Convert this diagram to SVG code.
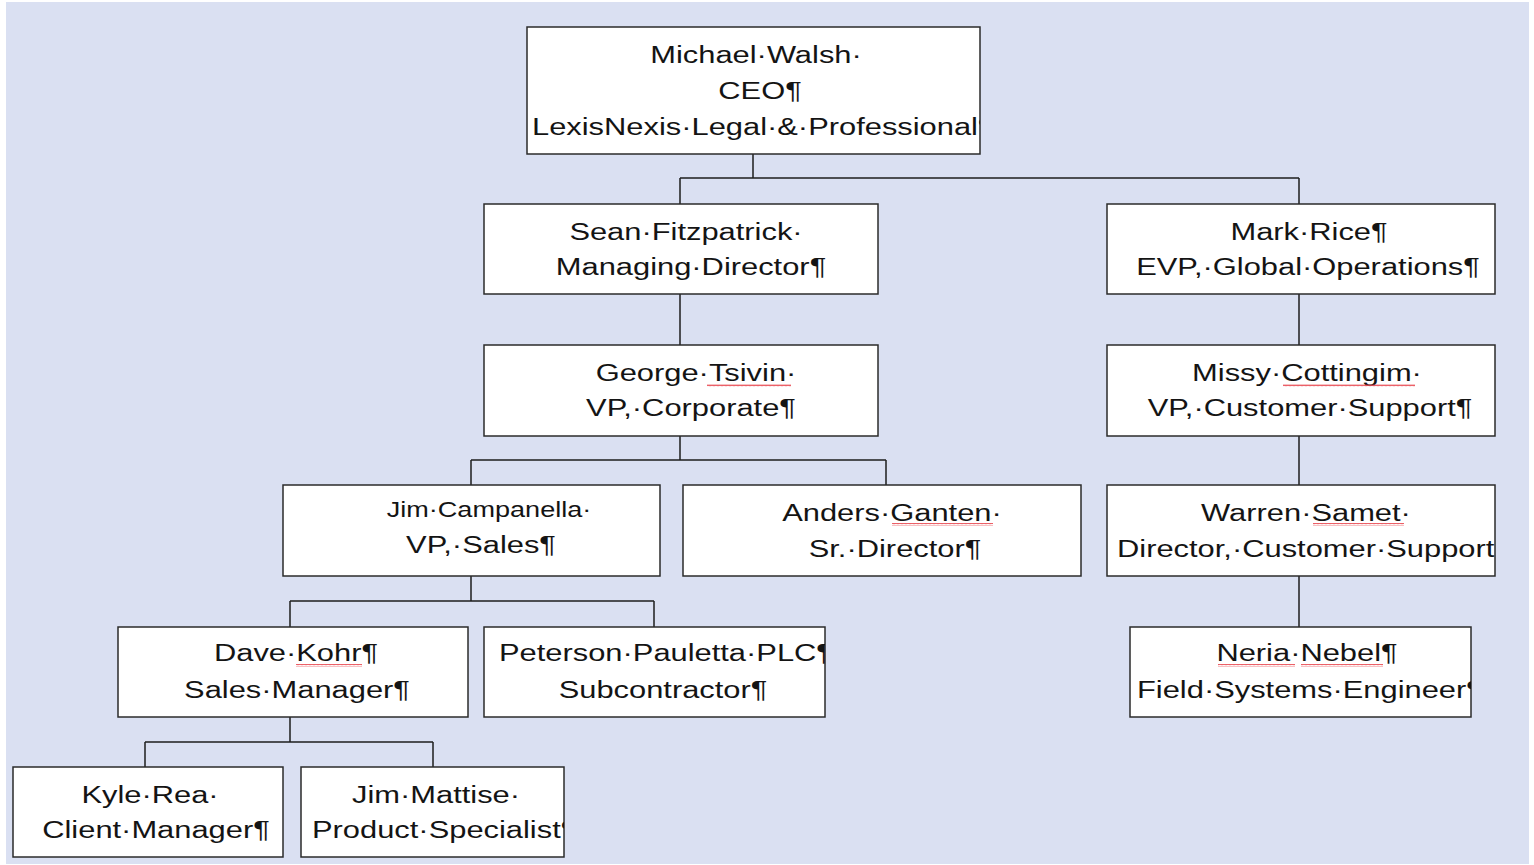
<svg xmlns="http://www.w3.org/2000/svg" width="1534" height="865" viewBox="0 0 1534 865">
<style>
.box{fill:#ffffff;stroke:#2b2b2b;stroke-width:1.5}
.t{font-family:"Liberation Sans",Arial,sans-serif;font-size:24.5px;fill:#141414}
.s{font-size:21.5px}
.m{text-anchor:middle}
.conn{fill:none;stroke:#1e1e1e;stroke-width:1.5}
.wavy{fill:url(#wave)}
</style>
<defs>
<pattern id="wave" x="0" y="0" width="4" height="3" patternUnits="userSpaceOnUse">
<path d="M0,2.2 L1,0.6 L2,2.2 L3,0.6 L4,2.2" fill="none" stroke="#e8434b" stroke-width="0.9"/>
</pattern>
<clipPath id="cCEO"><rect x="527" y="27" width="453" height="127"/></clipPath>
<clipPath id="cWarren"><rect x="1107" y="485" width="388" height="91"/></clipPath>
<clipPath id="cPet"><rect x="484" y="627" width="341" height="90"/></clipPath>
<clipPath id="cNeria"><rect x="1130" y="627" width="341" height="90"/></clipPath>
<clipPath id="cJimM"><rect x="301" y="767" width="263" height="90"/></clipPath>
</defs>
<rect x="0" y="0" width="1534" height="865" fill="#ffffff"/>
<rect x="6" y="2" width="1523" height="862" fill="#dae0f2"/>
<g id="connectors">
<path class="conn" d="M753,154 V178 M680,178 H1299 M680,178 V204 M1299,178 V204"/>
<path class="conn" d="M680,294 V345"/>
<path class="conn" d="M1299,294 V345"/>
<path class="conn" d="M680,436 V460 M471,460 H886 M471,460 V485 M886,460 V485"/>
<path class="conn" d="M1299,436 V485"/>
<path class="conn" d="M1299,576 V627"/>
<path class="conn" d="M471,576 V601 M290,601 H654 M290,601 V627 M654,601 V627"/>
<path class="conn" d="M290,717 V742 M145,742 H433 M145,742 V767 M433,742 V767"/>
</g>
<g id="ceo">
<rect class="box" x="527" y="27" width="453" height="127"/>
<text class="t m" transform="translate(756,63) scale(1.26,1)">Michael·Walsh·</text>
<text class="t m" transform="translate(760,99) scale(1.26,1)">CEO¶</text>
<g clip-path="url(#cCEO)"><text class="t" transform="translate(532,135) scale(1.26,1)">LexisNexis·Legal·&amp;·Professional¶</text></g>
</g>
<g id="sean">
<rect class="box" x="484" y="204" width="394" height="90"/>
<text class="t m" transform="translate(686,240) scale(1.26,1)">Sean·Fitzpatrick·</text>
<text class="t m" transform="translate(691,275) scale(1.26,1)">Managing·Director¶</text>
</g>
<g id="mark">
<rect class="box" x="1107" y="204" width="388" height="90"/>
<text class="t m" transform="translate(1309,240) scale(1.26,1)">Mark·Rice¶</text>
<text class="t m" transform="translate(1308,275) scale(1.26,1)">EVP,·Global·Operations¶</text>
</g>
<g id="george">
<rect class="box" x="484" y="345" width="394" height="91"/>
<text class="t m" transform="translate(696,381) scale(1.26,1)">George·Tsivin·</text>
<rect class="wavy" x="707" y="384" width="84" height="3"/>
<text class="t m" transform="translate(691,416) scale(1.26,1)">VP,·Corporate¶</text>
</g>
<g id="missy">
<rect class="box" x="1107" y="345" width="388" height="91"/>
<text class="t m" transform="translate(1307,381) scale(1.26,1)">Missy·Cottingim·</text>
<rect class="wavy" x="1283" y="384" width="132" height="3"/>
<text class="t m" transform="translate(1310,416) scale(1.26,1)">VP,·Customer·Support¶</text>
</g>
<g id="jimc">
<rect class="box" x="283" y="485" width="377" height="91"/>
<text class="t s m" transform="translate(489,517) scale(1.26,1)">Jim·Campanella·</text>
<text class="t m" transform="translate(481,553) scale(1.26,1)">VP,·Sales¶</text>
</g>
<g id="anders">
<rect class="box" x="683" y="485" width="398" height="91"/>
<text class="t m" transform="translate(892,521) scale(1.26,1)">Anders·Ganten·</text>
<rect class="wavy" x="892" y="523" width="101" height="3"/>
<text class="t m" transform="translate(895,557) scale(1.26,1)">Sr.·Director¶</text>
</g>
<g id="warren">
<rect class="box" x="1107" y="485" width="388" height="91"/>
<text class="t m" transform="translate(1306,521) scale(1.26,1)">Warren·Samet·</text>
<rect class="wavy" x="1313" y="523" width="91" height="3"/>
<g clip-path="url(#cWarren)"><text class="t" transform="translate(1117,557) scale(1.26,1)">Director,·Customer·Support¶</text></g>
</g>
<g id="dave">
<rect class="box" x="118" y="627" width="350" height="90"/>
<text class="t m" transform="translate(296,661) scale(1.26,1)">Dave·Kohr¶</text>
<rect class="wavy" x="296" y="664" width="66" height="3"/>
<text class="t m" transform="translate(297,698) scale(1.26,1)">Sales·Manager¶</text>
</g>
<g id="peterson">
<rect class="box" x="484" y="627" width="341" height="90"/>
<g clip-path="url(#cPet)"><text class="t" transform="translate(499,661) scale(1.26,1)">Peterson·Pauletta·PLC¶</text></g>
<text class="t m" transform="translate(663,698) scale(1.26,1)">Subcontractor¶</text>
</g>
<g id="neria">
<rect class="box" x="1130" y="627" width="341" height="90"/>
<text class="t m" transform="translate(1307,661) scale(1.26,1)">Neria·Nebel¶</text>
<rect class="wavy" x="1218" y="664" width="77" height="3"/>
<rect class="wavy" x="1301" y="664" width="82" height="3"/>
<g clip-path="url(#cNeria)"><text class="t" transform="translate(1137,698) scale(1.26,1)">Field·Systems·Engineer¶</text></g>
</g>
<g id="kyle">
<rect class="box" x="13" y="767" width="270" height="90"/>
<text class="t m" transform="translate(150,803) scale(1.26,1)">Kyle·Rea·</text>
<text class="t m" transform="translate(156,838) scale(1.26,1)">Client·Manager¶</text>
</g>
<g id="jimm">
<rect class="box" x="301" y="767" width="263" height="90"/>
<text class="t m" transform="translate(436,803) scale(1.26,1)">Jim·Mattise·</text>
<g clip-path="url(#cJimM)"><text class="t" transform="translate(312,838) scale(1.26,1)">Product·Specialist¶</text></g>
</g>
</svg>
